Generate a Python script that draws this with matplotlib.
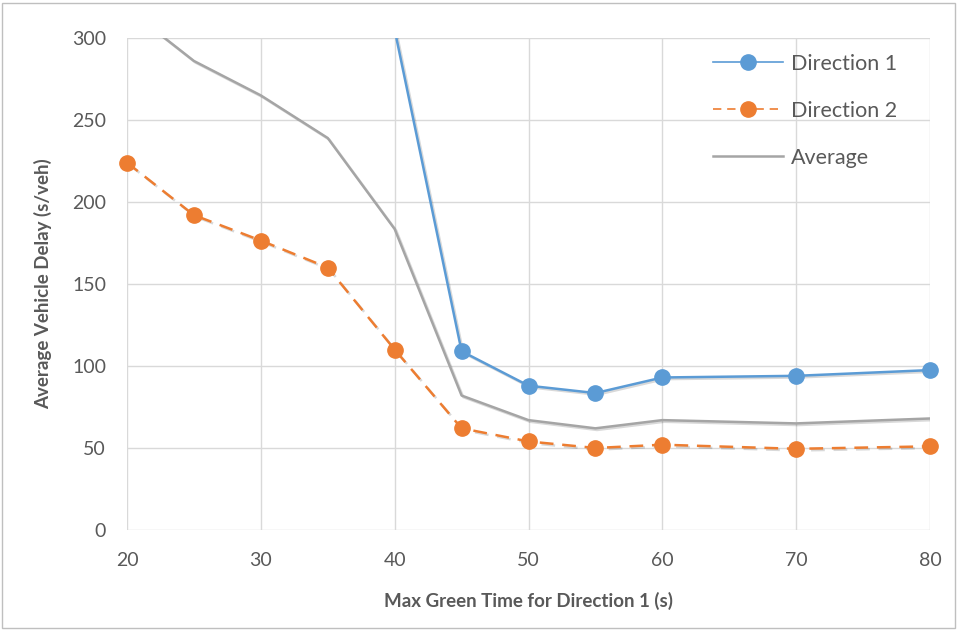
import numpy as np
import matplotlib
matplotlib.use("Agg")
import matplotlib.pyplot as plt
import matplotlib.patheffects as pe
from matplotlib.lines import Line2D

plt.rcParams['font.family'] = ['Lato', 'DejaVu Sans']

x = [20, 25, 30, 35, 40, 45, 50, 55, 60, 70, 80]
dir1 = [np.nan, np.nan, np.nan, np.nan, 305, 109, 88, 83.5, 93, 94, 97.5]
dir2 = [224, 192, 176.5, 160, 110, 62, 54, 50, 52, 49.5, 51]
avg = [318, 286, 265, 239, 183.5, 82, 67, 62, 67, 65, 68]

BLUE = '#5B9BD5'
ORANGE = '#ED7D31'
GRAY = '#A5A5A5'
TXT = '#595959'
YMAX = 300

fig = plt.figure(figsize=(9.58, 6.30), dpi=100)
ax = fig.add_axes([127/958, 1-530/630, (930-127)/958, (530-38)/630])

lshadow = [pe.SimpleLineShadow(offset=(1.2, -1.2), shadow_color='k', alpha=0.15), pe.Normal()]


def visible(vals):
    v = np.asarray(vals, dtype=float)
    return np.where(v <= YMAX, v, np.nan)


ax.plot(x, avg, color=GRAY, lw=1.8, path_effects=lshadow, zorder=3)
ax.plot(x, dir2, color=ORANGE, lw=1.8, dashes=(5.5, 3.5), path_effects=lshadow, zorder=4)
ax.plot(x, visible(dir2), ls='none', marker='o', ms=11, color=ORANGE, clip_on=False, zorder=5)
ax.plot(x, dir1, color=BLUE, lw=1.8, path_effects=lshadow, zorder=6)
ax.plot(x, visible(dir1), ls='none', marker='o', ms=11, color=BLUE, clip_on=False, zorder=7)

ax.set_xlim(20, 80)
ax.set_ylim(0, YMAX)
ax.set_xticks(range(20, 81, 10))
ax.set_yticks(range(0, 301, 50))
ax.grid(True, color='#D9D9D9', lw=1)
ax.set_axisbelow(True)
for s in ax.spines.values():
    s.set_visible(False)
ax.tick_params(length=0, labelsize=14, colors=TXT)
ax.tick_params(axis='x', pad=16)
ax.tick_params(axis='y', pad=15)

ax.set_xlabel('Max Green Time for Direction 1 (s)', fontsize=13.5, fontweight='bold', color=TXT, labelpad=16)
ax.set_ylabel('Average Vehicle Delay (s/veh)', fontsize=13.5, fontweight='bold', color=TXT, labelpad=14)

handles = [
    Line2D([], [], color=BLUE, lw=1.2, marker='o', ms=11),
    Line2D([], [], color=ORANGE, lw=1.2, dashes=(5, 3.5), marker='o', ms=11),
    Line2D([], [], color=GRAY, lw=1.8),
]
labels = ['Direction 1', 'Direction 2', 'Average']
ax.legend(handles, labels, loc='upper left', bbox_to_anchor=(567/803, 1.007),
          frameon=False, fontsize=15.5, labelspacing=1.25, handlelength=3.25,
          handletextpad=0.35, labelcolor=TXT)

fig.patches.append(plt.Rectangle((0.002, 0.003), 0.995, 0.993, transform=fig.transFigure,
                                 fill=False, edgecolor='#BFBFBF', lw=1))
fig.savefig('out.png', dpi=100)
